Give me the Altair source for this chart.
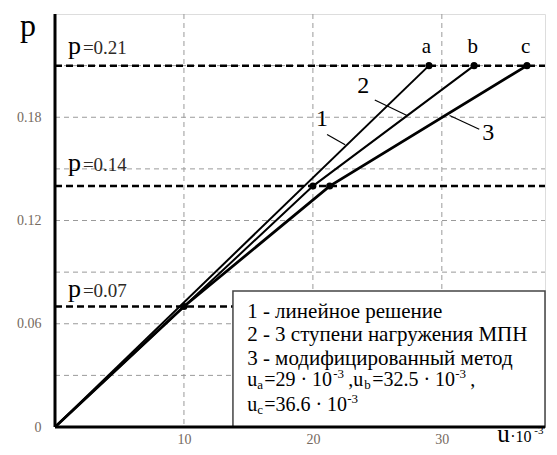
import altair as alt
import pandas as pd

# ---- data ----
u_lin = [0, 29.0]
p_lin = [0, 0.21]
u_mpn = [0, 10.0, 20.0, 32.5]
p_mpn = [0, 0.07, 0.14, 0.21]
u_mod = [0, 10.0, 21.3, 36.6]
p_mod = [0, 0.07, 0.14, 0.21]
pt_u = [10.0, 20.0, 21.3, 29.0, 32.5, 36.6]
pt_p = [0.07, 0.14, 0.14, 0.21, 0.21, 0.21]
load_levels = [0.07, 0.14, 0.21]
level_labels = ["=0.07", "=0.14", "=0.21"]
x_grid = [10, 20, 30]
y_grid = [0.03, 0.06, 0.09, 0.12, 0.15, 0.18, 0.21]
x_ticks = [10, 20, 30]
y_ticks = [0, 0.06, 0.12, 0.18]

XD = [0, 38]
YD = [0, 0.24]
SERIF = "'Times New Roman', 'Liberation Serif', 'DejaVu Serif', serif"
LBL = "#75695e"

xs = alt.Scale(domain=XD, nice=False, zero=False)
ys = alt.Scale(domain=YD, nice=False, zero=False)

x_axis = alt.Axis(values=x_ticks, grid=False, ticks=False, domain=False,
                  labelFont=SERIF, labelFontSize=14, labelColor=LBL,
                  labelPadding=5, title=None)
y_axis = alt.Axis(values=y_ticks, grid=False, ticks=False, domain=False,
                  labelFont=SERIF, labelFontSize=14, labelColor=LBL,
                  labelPadding=14, title=None,
                  labelExpr="datum.value == 0 ? '0' : format(datum.value, '.2f')")


def X(f="x"):
    return alt.X(f"{f}:Q", scale=xs, axis=x_axis)


def Y(f="y"):
    return alt.Y(f"{f}:Q", scale=ys, axis=y_axis)


gx = alt.Chart(pd.DataFrame({"x": x_grid})).mark_rule(color="#9a9a9a", strokeDash=[5, 4], strokeWidth=1).encode(
    x=X(), y=alt.value(0), y2=alt.value(413))
gy = alt.Chart(pd.DataFrame({"y": y_grid})).mark_rule(color="#9a9a9a", strokeDash=[5, 4], strokeWidth=1).encode(
    y=Y(), x=alt.value(0), x2=alt.value(490))

levels = alt.Chart(pd.DataFrame({"y": load_levels})).mark_rule(color="black", strokeDash=[7, 4], strokeWidth=2.5).encode(
    y=Y(), x=alt.value(0), x2=alt.value(490))

box = alt.Chart(pd.DataFrame({"x": [13.8], "x2": [38], "y": [0], "y2": [0.079]})).mark_rect(
    fill="white", stroke="#444444", strokeWidth=1.5).encode(x=X(), x2="x2:Q", y=Y(), y2="y2:Q")


def line_df(u, p):
    return pd.DataFrame({"x": u, "y": p, "o": list(range(len(u)))})


l1 = alt.Chart(line_df(u_lin, p_lin)).mark_line(color="black", strokeWidth=2).encode(x=X(), y=Y(), order="o:Q")
l2 = alt.Chart(line_df(u_mpn, p_mpn)).mark_line(color="black", strokeWidth=2).encode(x=X(), y=Y(), order="o:Q")
l3 = alt.Chart(line_df(u_mod, p_mod)).mark_line(color="black", strokeWidth=2.8).encode(x=X(), y=Y(), order="o:Q")
pts = alt.Chart(pd.DataFrame({"x": pt_u, "y": pt_p})).mark_circle(color="black", size=50, opacity=1).encode(x=X(), y=Y())

# leader lines for curve numbers
lead = pd.DataFrame({"x": [21.1, 24.8, 30.6], "y": [0.170, 0.190, 0.181],
                     "x2": [22.5, 27.3, 32.9], "y2": [0.164, 0.181, 0.173]})
leaders = alt.Chart(lead).mark_rule(color="black", strokeWidth=1.2).encode(x=X(), y=Y(), x2="x2:Q", y2="y2:Q")

# frame
frame_l = alt.Chart(pd.DataFrame({"a": [0]})).mark_rule(color="black", strokeWidth=3).encode(
    x=alt.value(0), y=alt.value(0), y2=alt.value(413))
frame_b = alt.Chart(pd.DataFrame({"a": [0]})).mark_rule(color="black", strokeWidth=3).encode(
    x=alt.value(0), x2=alt.value(490), y=alt.value(413))


def txt(t, x, y, size=21, dx=0, dy=0, align="left", baseline="middle", color="black"):
    return alt.Chart(pd.DataFrame({"x": [x], "y": [y], "t": [t]})).mark_text(
        font=SERIF, fontSize=size, color=color, align=align, baseline=baseline, dx=dx, dy=dy
    ).encode(x=X(), y=Y(), text="t:N")


texts = []
# curve numbers and point letters
texts += [txt("1", 20.7, 0.179, 24, align="center"),
          txt("2", 23.9, 0.198, 24, align="center"),
          txt("3", 33.6, 0.171, 24, align="center"),
          txt("a", 28.8, 0.221, 21, align="center"),
          txt("b", 32.4, 0.221, 21, align="center"),
          txt("c", 36.5, 0.221, 21, align="center")]
# level labels
for lvl, lab, off in zip(load_levels, level_labels, [0.0058, 0.0087, 0.0070]):
    texts.append(txt("p", 1.0, lvl + off, 26, baseline="alphabetic"))
    texts.append(txt(lab, 1.0, lvl + off, 19, dx=15, baseline="alphabetic", color="#2e2a26"))
# axis titles
texts.append(txt("p", -2.1, 0.233, 32, align="center"))
UX, UY = 34.3, -0.0088
texts.append(txt("u", UX, UY, 25, baseline="alphabetic"))
texts.append(txt("·10", UX, UY, 16, dx=13, baseline="alphabetic"))
texts.append(txt("-3", UX, UY, 11, dx=37, dy=-8, baseline="alphabetic"))
# legend text
LX = 14.9
texts += [txt("1 - линейное решение", LX, 0.0668),
          txt("2 - 3 ступени нагружения МПН", LX, 0.0535),
          txt("3 - модифицированный метод", LX, 0.0395)]
r4 = 0.0273
texts += [txt("u", LX, r4, 20), txt("a", LX, r4, 13, dx=10, dy=5),
          txt("=29 · 10", LX, r4, 20, dx=17), txt("-3", LX, r4, 13, dx=86, dy=-6),
          txt(",u", LX, r4, 20, dx=101), txt("b", LX, r4, 13, dx=117, dy=5),
          txt("=32.5 · 10", LX, r4, 20, dx=125), txt("-3", LX, r4, 13, dx=208, dy=-6),
          txt(",", LX, r4, 20, dx=223)]
r5 = 0.0128
texts += [txt("u", LX, r5, 20), txt("c", LX, r5, 13, dx=10, dy=5),
          txt("=36.6 · 10", LX, r5, 20, dx=17), txt("-3", LX, r5, 13, dx=100, dy=-6)]

chart = alt.layer(gx, gy, levels, box, l1, l2, l3, pts, leaders, frame_l, frame_b, *texts).properties(
    width=490, height=413,
    autosize=alt.AutoSizeParams(type="none"),
    padding={"left": 47, "top": 6, "right": 4, "bottom": 20},
).configure_view(stroke="black", strokeWidth=2).configure(background="white")

chart.save("out.html", embed_options={"renderer": "svg", "actions": False})
